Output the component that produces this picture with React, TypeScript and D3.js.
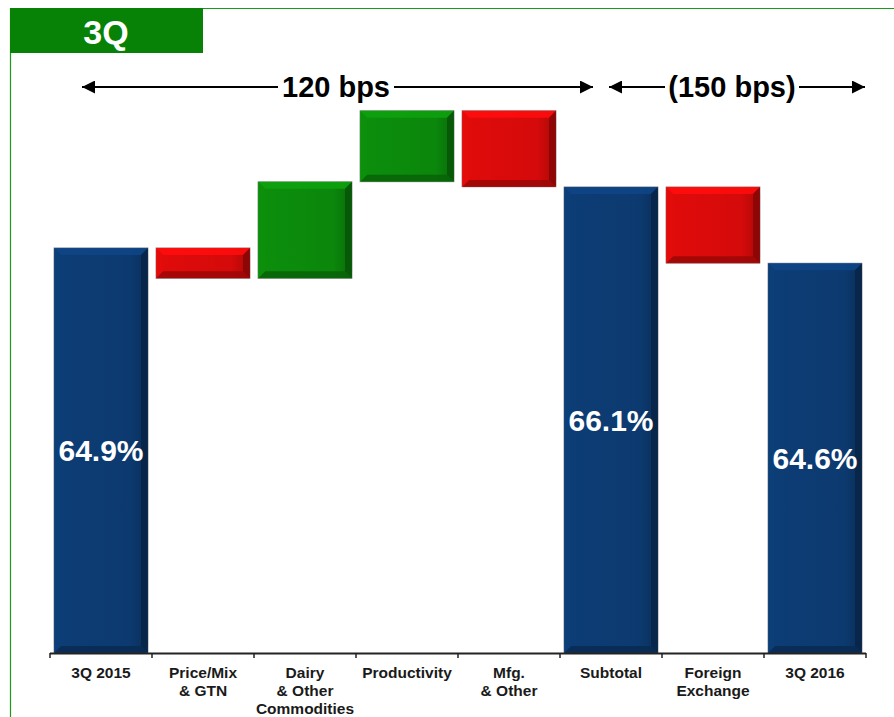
import React from "react";
import * as d3 from "d3";

const categories = ["3Q 2015", "Price/Mix\n& GTN", "Dairy\n& Other\nCommodities", "Productivity", "Mfg.\n& Other", "Subtotal", "Foreign\nExchange", "3Q 2016"];
const deltas = [64.9, -0.6, 1.9, 1.4, -1.5, 66.1, -1.5, 64.6];
const kinds = ["total", "delta", "delta", "delta", "delta", "total", "delta", "total"];
const totalLabels = ["64.9%", "", "", "", "", "66.1%", "", "64.6%"];
const spans = [
  { label: "120 bps", from: 0, to: 5 },
  { label: "(150 bps)", from: 5, to: 8 },
];

const W = 894, H = 717;
const BLUE = "#0c3a70", RED = "#d50a0a", GREEN = "#0b870b";

function shade(c: string, k: number) {
  const col = d3.color(c)!;
  return (k > 0 ? col.brighter(k) : col.darker(-k)).formatHex();
}

function Bevel({ x, y, w, h, color, id }: any) {
  const b = Math.min(7, h / 2.5);
  return (
    <g>
      <defs>
        <linearGradient id={id} x1="0" x2="1" y1="0" y2="0">
          <stop offset="0" stopColor={shade(color, 0.15)} />
          <stop offset="0.8" stopColor={color} />
          <stop offset="1" stopColor={shade(color, -0.6)} />
        </linearGradient>
      </defs>
      <rect x={x} y={y} width={w} height={h} fill={`url(#${id})`} stroke="#9a9a9a" strokeWidth={0.8} />
      <polygon points={`${x},${y} ${x + w},${y} ${x + w - b},${y + b} ${x + b},${y + b}`} fill={shade(color, 0.5)} opacity={0.9} />
      <polygon points={`${x + w},${y} ${x + w},${y + h} ${x + w - b},${y + h - b} ${x + w - b},${y + b}`} fill={shade(color, -1.3)} opacity={0.85} />
      <polygon points={`${x},${y + h} ${x + w},${y + h} ${x + w - b},${y + h - b} ${x + b},${y + h - b}`} fill={shade(color, -0.9)} opacity={0.85} />
      <polygon points={`${x},${y} ${x + b},${y + b} ${x + b},${y + h - b} ${x},${y + h}`} fill={shade(color, 0.2)} opacity={0.8} />
    </g>
  );
}

export default function App() {
  const x = d3.scaleBand<number>().domain(d3.range(categories.length)).range([50, 866]).paddingInner(0.078).paddingOuter(0.039);
  const y = d3.scaleLinear().domain([56.93, 68]).range([653, 90.3]);

  let running = 0;
  const bars = deltas.map((v, i) => {
    let lo: number, hi: number;
    if (kinds[i] === "total") {
      lo = y.domain()[0]; hi = v; running = v;
    } else {
      const start = running; running = running + v;
      lo = Math.min(start, running); hi = Math.max(start, running);
    }
    const color = kinds[i] === "total" ? BLUE : v >= 0 ? GREEN : RED;
    return { i, lo, hi, color };
  });

  const step = x.step();
  const font = "'Liberation Sans', Arial, sans-serif";
  const arrowY = 87;

  return (
    <svg width={W} height={H} style={{ position: "absolute", left: 0, top: 0, background: "#fff" }} fontFamily={font}>
      <rect x={0} y={0} width={W} height={H} fill="#fff" />
      <line x1={10.5} y1={8} x2={10.5} y2={H} stroke="#1a9a1a" strokeWidth={1.2} />
      <line x1={10} y1={8.5} x2={W} y2={8.5} stroke="#1a9a1a" strokeWidth={1.2} />
      <rect x={10} y={8} width={193} height={45} fill="#078207" />
      <text x={106} y={44} fill="#fff" fontSize={34} fontWeight="bold" textAnchor="middle">3Q</text>

      {bars.map((b) => (
        <Bevel key={b.i} id={`g${b.i}`} x={x(b.i)!} y={y(b.hi)} w={x.bandwidth()} h={y(b.lo) - y(b.hi)} color={b.color} />
      ))}

      {bars.map((b) =>
        totalLabels[b.i] ? (
          <text key={"l" + b.i} x={x(b.i)! + x.bandwidth() / 2} y={(y(b.hi) + y(b.lo)) / 2 + 11} fill="#fff" fontSize={30} fontWeight="bold" textAnchor="middle">
            {totalLabels[b.i]}
          </text>
        ) : null
      )}

      <line x1={50} x2={866} y1={653.5} y2={653.5} stroke="#222" strokeWidth={2} />
      {d3.range(categories.length + 1).map((k) => (
        <line key={"t" + k} x1={50 + k * step} x2={50 + k * step} y1={653} y2={658} stroke="#222" strokeWidth={1.5} />
      ))}

      {categories.map((c, i) => (
        <text key={"c" + i} x={x(i)! + x.bandwidth() / 2} y={678} fontSize={15.5} fontWeight="bold" fill="#1a1a1a" textAnchor="middle">
          {c.split("\n").map((ln, j) => (
            <tspan key={j} x={x(i)! + x.bandwidth() / 2} dy={j === 0 ? 0 : 18}>{ln}</tspan>
          ))}
        </text>
      ))}

      <defs>
        <marker id="ah" viewBox="0 0 10 10" refX="10" refY="5" markerWidth="8" markerHeight="6.5" orient="auto-start-reverse" markerUnits="strokeWidth">
          <path d="M0,0 L10,5 L0,10 z" fill="#000" />
        </marker>
      </defs>
      {spans.map((s, k) => {
        const left = k === 0 ? 82 : 609;
        const right = k === 0 ? 593 : 865;
        const cx = k === 0 ? 336 : 732;
        const half = k === 0 ? 58 : 67;
        return (
          <g key={"s" + k}>
            <line x1={left} x2={cx - half} y1={arrowY} y2={arrowY} stroke="#000" strokeWidth={2} markerStart="url(#ah)" />
            <line x1={cx + half} x2={right} y1={arrowY} y2={arrowY} stroke="#000" strokeWidth={2} markerEnd="url(#ah)" />
            <text x={cx} y={arrowY + 10} fontSize={29} fontWeight="bold" textAnchor="middle" fill="#000">{s.label}</text>
          </g>
        );
      })}
    </svg>
  );
}
